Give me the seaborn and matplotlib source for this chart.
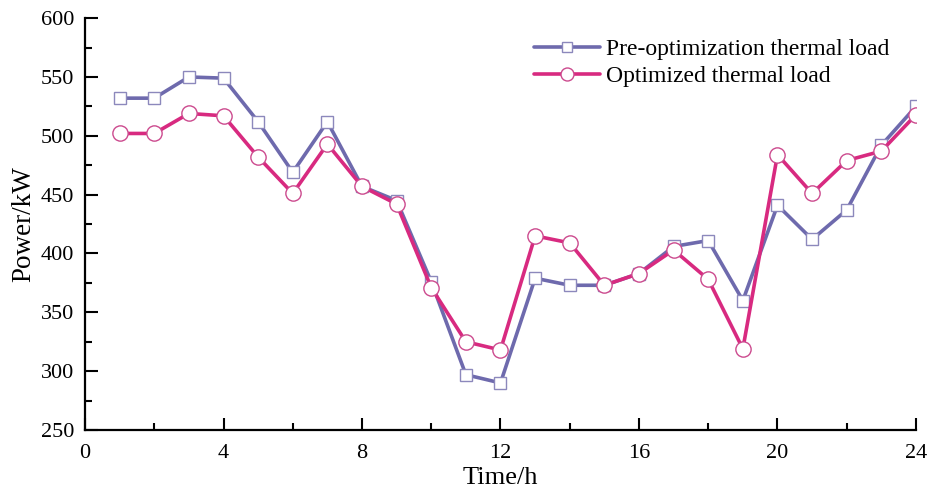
import matplotlib
matplotlib.use("Agg")
import matplotlib.pyplot as plt
from matplotlib.ticker import MultipleLocator
import seaborn as sns
import pandas as pd

hours = list(range(1, 25))
pre_opt = [532, 532, 550, 549, 512, 469, 512, 457, 445, 376, 297, 290,
           379, 373, 373, 383, 406, 411, 360, 441, 412, 437, 492, 525]
optimized = [502, 502, 519, 517, 482, 451, 493, 457, 442, 371, 325, 318,
             415, 409, 373, 383, 403, 378, 319, 484, 451, 479, 487, 518]
labels = ["Pre-optimization thermal load", "Optimized thermal load"]

sns.set_theme(style="ticks")
plt.rcParams["font.family"] = ["Liberation Serif", "DejaVu Serif"]
plt.rcParams["text.color"] = "black"
plt.rcParams["axes.labelcolor"] = "black"

df_pre = pd.DataFrame({"Hour": hours, "Power": pre_opt})
df_opt = pd.DataFrame({"Hour": hours, "Power": optimized})

fig = plt.figure(figsize=(9.29, 4.90), dpi=100)
ax = fig.add_axes([0.0915, 0.1224, 0.8945, 0.8406])

sns.lineplot(data=df_pre, x="Hour", y="Power", ax=ax, color="#6E6AAD",
             marker="s", markersize=9, mfc="white", mec="#8C88BC",
             mew=1.0, linewidth=2.6, label=labels[0])
sns.lineplot(data=df_opt, x="Hour", y="Power", ax=ax, color="#D82A80",
             marker="o", markersize=11, mfc="white", mec="#CC4A8E",
             mew=1.0, linewidth=2.6, label=labels[1])

ax.set_xlim(0, 24)
ax.set_ylim(250, 600)
ax.xaxis.set_major_locator(MultipleLocator(4))
ax.xaxis.set_minor_locator(MultipleLocator(2))
ax.yaxis.set_major_locator(MultipleLocator(50))
ax.yaxis.set_minor_locator(MultipleLocator(25))
ax.tick_params(which="major", direction="in", length=9, width=1.5,
               labelsize=16, colors="black")
ax.tick_params(which="minor", direction="in", length=5, width=1.5,
               colors="black")
ax.tick_params(axis="x", pad=10)
ax.tick_params(axis="y", pad=8)
for s in ["top", "right"]:
    ax.spines[s].set_visible(False)
for s in ["left", "bottom"]:
    ax.spines[s].set_linewidth(1.6)
    ax.spines[s].set_color("black")

ax.set_xlabel("Time/h", fontsize=19, labelpad=3, color="black")
ax.set_ylabel("Power/kW", fontsize=19.5, labelpad=3, color="black")

leg = ax.legend(loc="upper right", bbox_to_anchor=(0.985, 0.985), frameon=False,
                fontsize=17, handlelength=2.8, handletextpad=0.25,
                labelspacing=0.25, borderaxespad=0.2, markerscale=0.85,
                labelcolor="black")

fig.savefig("out.png", dpi=100)
